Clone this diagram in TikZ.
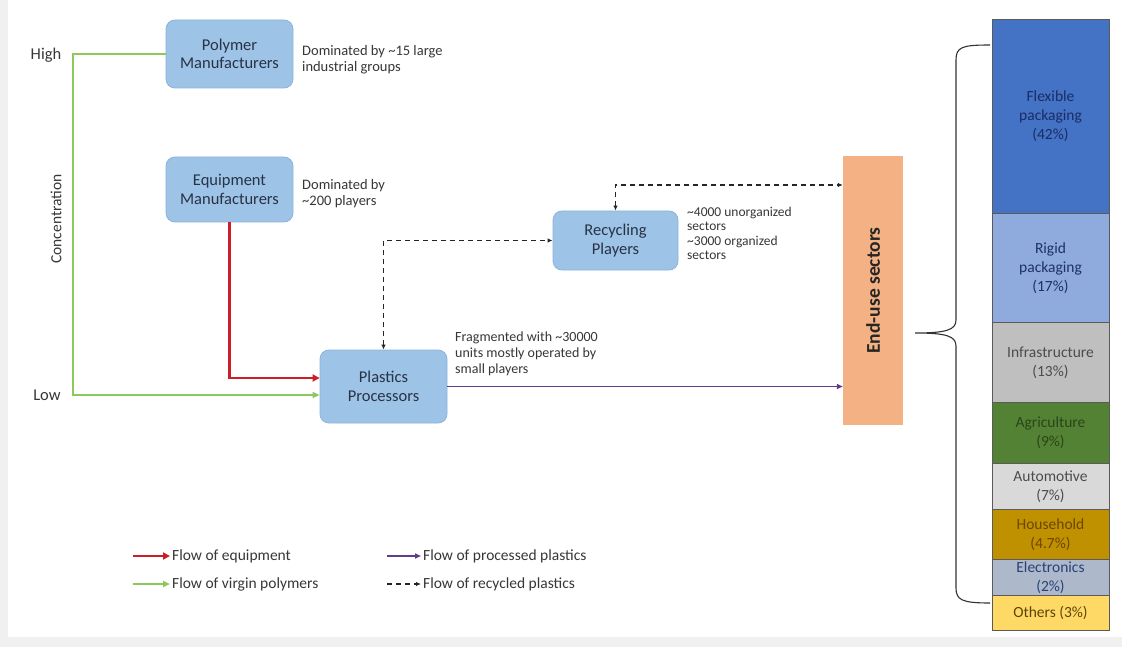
\documentclass[tikz,border=0pt]{standalone}
\usepackage{fontspec}
\setmainfont{Carlito}
\usetikzlibrary{arrows.meta}
\definecolor{bggray}{RGB}{240,240,240}
\definecolor{boxblue}{RGB}{157,195,230}
\definecolor{boxedge}{RGB}{140,180,220}
\definecolor{boxtext}{RGB}{40,50,70}
\definecolor{anntext}{RGB}{55,55,55}
\definecolor{greenflow}{RGB}{140,200,90}
\definecolor{redflow}{RGB}{205,30,40}
\definecolor{purpleflow}{RGB}{95,60,140}
\definecolor{endorange}{RGB}{244,177,131}
\definecolor{cflex}{RGB}{68,114,196}
\definecolor{crigid}{RGB}{143,170,220}
\definecolor{cinfra}{RGB}{191,191,191}
\definecolor{cagri}{RGB}{84,130,53}
\definecolor{cauto}{RGB}{217,217,217}
\definecolor{chouse}{RGB}{191,144,0}
\definecolor{celec}{RGB}{173,185,202}
\definecolor{cother}{RGB}{255,217,102}
\definecolor{segedge}{RGB}{90,90,90}
\definecolor{tflex}{RGB}{25,45,100}
\definecolor{trigid}{RGB}{30,50,100}
\definecolor{tagri}{RGB}{40,70,25}
\definecolor{thouse}{RGB}{110,70,0}
\definecolor{telec}{RGB}{40,65,120}
\definecolor{tother}{RGB}{90,70,10}
\begin{document}
\begin{tikzpicture}[x=1pt,y=-1pt,
  blockbox/.style={rectangle, rounded corners=9pt, fill=boxblue, draw=boxedge, line width=0.8pt,
    minimum width=127pt, align=center, text=boxtext, font=\fontsize{16.5}{18.5}\selectfont, inner sep=0pt},
  annot/.style={anchor=west, align=left, inner sep=0pt, text=anntext, font=\fontsize{14.5}{16}\selectfont},
  axislabel/.style={inner sep=0pt, text=anntext, font=\fontsize{16.5}{18}\selectfont},
  legtext/.style={anchor=west, inner sep=2pt, text=anntext, font=\fontsize{15.5}{18}\selectfont},
  seg/.style={rectangle, anchor=north, draw=segedge, line width=0.8pt, minimum width=117pt,
    inner sep=0pt, align=center, font=\fontsize{15.5}{19}\selectfont},
  greenline/.style={draw=greenflow, line width=2pt},
  redline/.style={draw=redflow, line width=2.6pt},
  purpleline/.style={draw=purpleflow, line width=1.5pt},
  dashline/.style={draw=black!85, line width=1.5pt, dash pattern=on 5pt off 4pt},
  gtip/.style={-{Triangle[length=7pt,width=6pt]}},
  rtip/.style={-{Triangle[length=7pt,width=7pt]}},
  ptip/.style={-{Triangle[length=6pt,width=5pt]}},
  dtip/.style={-{Latex[length=5pt,width=4.5pt]}},
  dtips/.style={{Latex[length=5pt,width=4.5pt]}-{Latex[length=5pt,width=4.5pt]}}
]
\useasboundingbox (0,0) rectangle (1122,647);
\fill[bggray] (0,0) rectangle (1122,647);
\fill[white] (8,0) rectangle (1122,637);

% axis labels
\node[axislabel] (high) at (46,55) {High};
\node[axislabel] (low) at (47,395) {Low};
\node[axislabel, rotate=90, font=\fontsize{15.5}{17}\selectfont] (conc) at (56,219) {Concentration};

% main boxes
\node[blockbox, minimum height=68pt] (poly) at (229.5,54) {Polymer\\Manufacturers};
\node[blockbox, minimum height=65pt] (equip) at (229.5,189.5) {Equipment\\Manufacturers};
\node[blockbox, minimum height=73pt] (proc) at (383.5,386.5) {Plastics\\Processors};
\node[blockbox, minimum width=125pt, minimum height=59pt] (rec) at (615.5,240.5) {Recycling\\Players};
\node[rectangle, fill=endorange, minimum width=60pt, minimum height=269pt, inner sep=0pt] (enduse) at (873,290.5) {};
\node[rotate=90, font=\fontsize{19.5}{22}\selectfont\bfseries, text=black!85] (eutext) at (enduse.center) {End-use sectors};

% annotations
\node[annot] (a1) at (302,59.5) {Dominated by \textasciitilde15 large\\industrial groups};
\node[annot] (a2) at (302,193.5) {Dominated by\\\textasciitilde200 players};
\node[annot, font=\fontsize{13.5}{14.5}\selectfont] (a3) at (687,233.5) {\textasciitilde4000 unorganized\\sectors\\\textasciitilde3000 organized\\sectors};
\node[annot, font=\fontsize{14}{16}\selectfont] (a4) at (455,354) {Fragmented with \textasciitilde30000\\units mostly operated by\\small players};

% green flow
\coordinate (lo) at (73,395);
\draw[greenline, gtip] (poly.west) -- (poly.west -| lo) -- (lo) -- ([yshift=-8.5pt]proc.west);
% red flow
\draw[redline, rtip] (equip.south) |- ([yshift=8.5pt]proc.west);
% purple flow
\draw[purpleline, ptip] (proc.east) -- (proc.east -| enduse.west);
% recycled flows
\draw[dashline, dtips] (proc.north) |- (rec.west);
\draw[dashline, dtips] (rec.north) |- ([yshift=105.5pt]enduse.west);

% stacked bar
\node[seg, fill=cflex, minimum height=194pt, text=tflex] (flex) at (1050.5,19) {Flexible\\packaging\\(42\%)};
\node[seg, fill=crigid, minimum height=109pt, text=trigid] (rigid) at (1050.5,213) {Rigid\\packaging\\(17\%)};
\node[seg, fill=cinfra, minimum height=80pt, text=black!70] (infra) at (1050.5,322) {Infrastructure\\(13\%)};
\node[seg, fill=cagri, minimum height=61pt, text=tagri] (agri) at (1050.5,402) {Agriculture\\(9\%)};
\node[seg, fill=cauto, minimum height=47pt, text=black!70] (auto) at (1050.5,463) {Automotive\\(7\%)};
\node[seg, fill=chouse, minimum height=50pt, text=thouse] (house) at (1050.5,509) {Household\\(4.7\%)};
\node[seg, fill=celec, minimum height=36pt, text=telec] (elec) at (1050.5,559) {Electronics\\(2\%)};
\node[seg, fill=cother, minimum height=35pt, text=tother] (other) at (1050.5,595) {Others (3\%)};

% brace
\draw[black!80, line width=1.1pt]
  (990,45) .. controls (962,45) and (956,47) .. (956,60)
  -- (956,320) .. controls (956,330) and (946,333) .. (915,333)
  .. controls (946,333) and (956,336) .. (956,346)
  -- (956,588) .. controls (956,600) and (962,603) .. (990,603);

% legend
\node[legtext] (l1) at (170,556) {Flow of equipment};
\node[legtext] (l2) at (170,584) {Flow of virgin polymers};
\node[legtext] (l3) at (421,556) {Flow of processed plastics};
\node[legtext] (l4) at (421,584) {Flow of recycled plastics};
\coordinate (l1s) at (133,556);
\coordinate (l2s) at (133,584);
\coordinate (l3s) at (387,556);
\coordinate (l4s) at (387,584);
\draw[redline, rtip] (l1s) -- (l1.west);
\draw[greenline, gtip] (l2s) -- (l2.west);
\draw[purpleline, ptip] (l3s) -- (l3.west);
\draw[dashline, dtip] (l4s) -- (l4.west);
\end{tikzpicture}
\end{document}
